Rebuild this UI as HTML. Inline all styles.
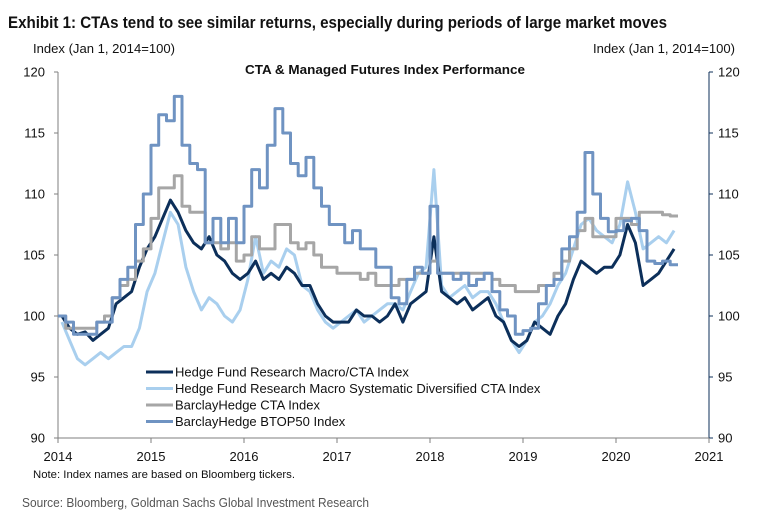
<!DOCTYPE html>
<html><head><meta charset="utf-8"><style>
body{margin:0;background:#fff;}
svg{display:block;font-family:"Liberation Sans Narrow","Liberation Sans",sans-serif;}
</style></head><body>
<svg id="c" width="781" height="522" viewBox="0 0 781 522">
<text x="8" y="28" font-size="17" font-weight="bold" textLength="659" lengthAdjust="spacingAndGlyphs" fill="#111">Exhibit 1: CTAs tend to see similar returns, especially during periods of large market moves</text>
<text x="33" y="53" font-size="12.5" textLength="142" lengthAdjust="spacingAndGlyphs" fill="#111">Index (Jan 1, 2014=100)</text>
<text x="593" y="53" font-size="12.5" textLength="142" lengthAdjust="spacingAndGlyphs" fill="#111">Index (Jan 1, 2014=100)</text>
<text x="245" y="74" font-size="12.5" font-weight="bold" textLength="280" lengthAdjust="spacingAndGlyphs" fill="#111">CTA &amp; Managed Futures  Index Performance</text>
<g id="axes"></g>
<g id="series"></g>
<g id="legend"></g>
<text x="33" y="478" font-size="11" textLength="262" lengthAdjust="spacingAndGlyphs" fill="#111">Note: Index names are based on Bloomberg tickers.</text>
<text x="22" y="507" font-size="13" textLength="347" lengthAdjust="spacingAndGlyphs" fill="#555">Source: Bloomberg, Goldman Sachs Global Investment Research</text>
</svg>
<script>
const yTicks=[90,95,100,105,110,115,120];
const xTicks=[2014,2015,2016,2017,2018,2019,2020,2021];
const seriesNames=["Hedge Fund Research Macro/CTA Index","Hedge Fund Research Macro Systematic Diversified CTA Index","BarclayHedge CTA Index","BarclayHedge BTOP50 Index"];
const hfrMacro=[100,99,98.5,98.7,98,98.5,99,101,101.5,102,104,105.5,
106.5,108,109.5,108.5,107,106,105.5,106.5,105,104.5,103.5,103,
103.5,104.5,103,103.5,103,104,103.5,102.5,102.5,101,100,99.5,
99.5,99.5,100.5,100,100,99.5,100,101,99.5,101,101.5,102,
106.5,102,101.5,101,101.5,100.5,101,101.5,100,99.5,98,97.5,
98,99.5,99,98.5,100,101,103,104.5,104,103.5,104,104,
105,107.5,106,102.5,103,103.5,104.5,105.5];
const hfrSystematic=[99.5,98,96.5,96,96.5,97,96.5,97,97.5,97.5,99,102,
103.5,106,108.5,107.5,104,102,100.5,101.5,101,100,99.5,100.5,
103,106.5,103.5,104.5,104,105.5,105,102.5,102,100.5,99.5,99,
99.5,100,100.5,99.5,100,100.5,101,101,100.5,102,103.5,104,
112,102.5,101.5,102,102.5,101.5,102,102,101,99.5,98,97,
98,99.5,100,101,102.5,103.5,105.5,107.5,108,107,106.5,106,
107.5,111,108.5,105.5,106,106.5,106,107];
const barclayCTA=[100,99,99,99,99,99.5,100,101.5,102.5,103,104.5,105.5,
108,110.5,110.5,111.5,109,108.5,108.5,106,106,105.5,106,104.5,
105,106.5,105.5,105.5,107.5,107.5,106,105.5,106,105,104,104,
103.5,103.5,103.5,103,103.5,102.5,102.5,102.5,103,103,103.5,103.5,
104.5,103.5,103.5,103.5,103.5,103.5,103.5,103.5,103,102.5,102.5,102,
102,102,102.5,102.5,103.5,104.5,105.5,107,108,106.5,106.5,106.5,
108,108,107.5,108.5,108.5,108.5,108.3,108.2];
const btop50=[100,99.5,98.5,98.5,98.5,99.5,99.5,101.5,103,104,107.5,110,
114,116.5,116,118,114,112.5,112,106,108,106,108,106,
109,112,110.5,114,117,115,112.5,111.5,113,110.5,109,107.5,
107.5,106,107,105.5,105.5,104,104,101.5,101,103,104,103.5,
109,103.5,103.5,103,103.5,102.5,103,103.5,102,100.5,100,98.5,
98.8,99,101,102.5,103,105.5,106.5,108.5,113.4,110,108,106.9,
107,107.8,108,107,104.5,104.3,104.5,104.2];

const NS="http://www.w3.org/2000/svg";
const X0=58,X1=709,Y0=438,Y1=72;
const x=t=>X0+(t-2014)/7*(X1-X0);
const y=v=>Y0-(v-90)/30*(Y0-Y1);
function mk(tag,attrs,parent){const e=document.createElementNS(NS,tag);for(const k in attrs)e.setAttribute(k,attrs[k]);parent.appendChild(e);return e;}
const axes=document.getElementById('axes');
let e;
e=mk('line',{x1:X0,y1:Y1,x2:X0,y2:Y0,stroke:'#7f7f7f','stroke-width':1},axes);


e=mk('line',{x1:X1,y1:Y1,x2:X1,y2:Y0,stroke:'#0c2f5a','stroke-width':1},axes);


e=mk('line',{x1:X0,y1:Y0,x2:X1,y2:Y0,stroke:'#7f7f7f','stroke-width':1},axes);


yTicks.forEach(v=>{
  mk('line',{x1:X0-4,y1:y(v),x2:X0,y2:y(v),stroke:'#7f7f7f'},axes);
  mk('line',{x1:X1,y1:y(v),x2:X1+4,y2:y(v),stroke:'#0c2f5a'},axes);
  e=mk('text',{x:X0-13,y:y(v)+4.5,'font-size':13,'text-anchor':'end',fill:'#111'},axes);e.textContent=v;
  
  
  e=mk('text',{x:X1+9,y:y(v)+4.5,'font-size':13,fill:'#111'},axes);e.textContent=v;
  
  
});
xTicks.forEach(t=>{
  mk('line',{x1:x(t),y1:Y0,x2:x(t),y2:Y0+5,stroke:'#7f7f7f'},axes);
  e=mk('text',{x:x(t),y:Y0+23,'font-size':13,'text-anchor':'middle',fill:'#111'},axes);e.textContent=t;
  
  
});
const sg=document.getElementById('series');
function lineSeries(vals){return vals.map((v,i)=>(i?'L':'M')+x(2014+(i+0.5)/12).toFixed(1)+','+y(v).toFixed(1)).join('');}
function stepSeries(vals){let d='';vals.forEach((v,i)=>{const a=x(2014+i/12),b=x(2014+(i+1)/12);d+=(i?'L':'M')+a.toFixed(1)+','+y(v).toFixed(1)+'L'+b.toFixed(1)+','+y(v).toFixed(1);});return d;}
const styles=[['#a9cfee',3,'hfr-systematic-line',lineSeries(hfrSystematic)],
['#0c2f5a',3,'hfr-macro-line',lineSeries(hfrMacro)],
['#a6a6a6',3,'barclay-cta-line',stepSeries(barclayCTA)],
['#6f93c2',3,'btop50-line',stepSeries(btop50)]];
styles.forEach(s=>{
  e=mk('path',{d:s[3],fill:'none',stroke:s[0],'stroke-width':s[1],'stroke-linejoin':'round'},sg);
  
  
});
const lg=document.getElementById('legend');
const lc=['#0c2f5a','#a9cfee','#a6a6a6','#6f93c2'];
seriesNames.forEach((n,i)=>{
  const yy=372+i*16.5;
  e=mk('line',{x1:146,y1:yy,x2:173,y2:yy,stroke:lc[i],'stroke-width':3},lg);
  
  
  e=mk('text',{x:175,y:yy+4.5,'font-size':13,fill:'#111'},lg);e.textContent=n;
  
  
});
</script>
</body></html>
